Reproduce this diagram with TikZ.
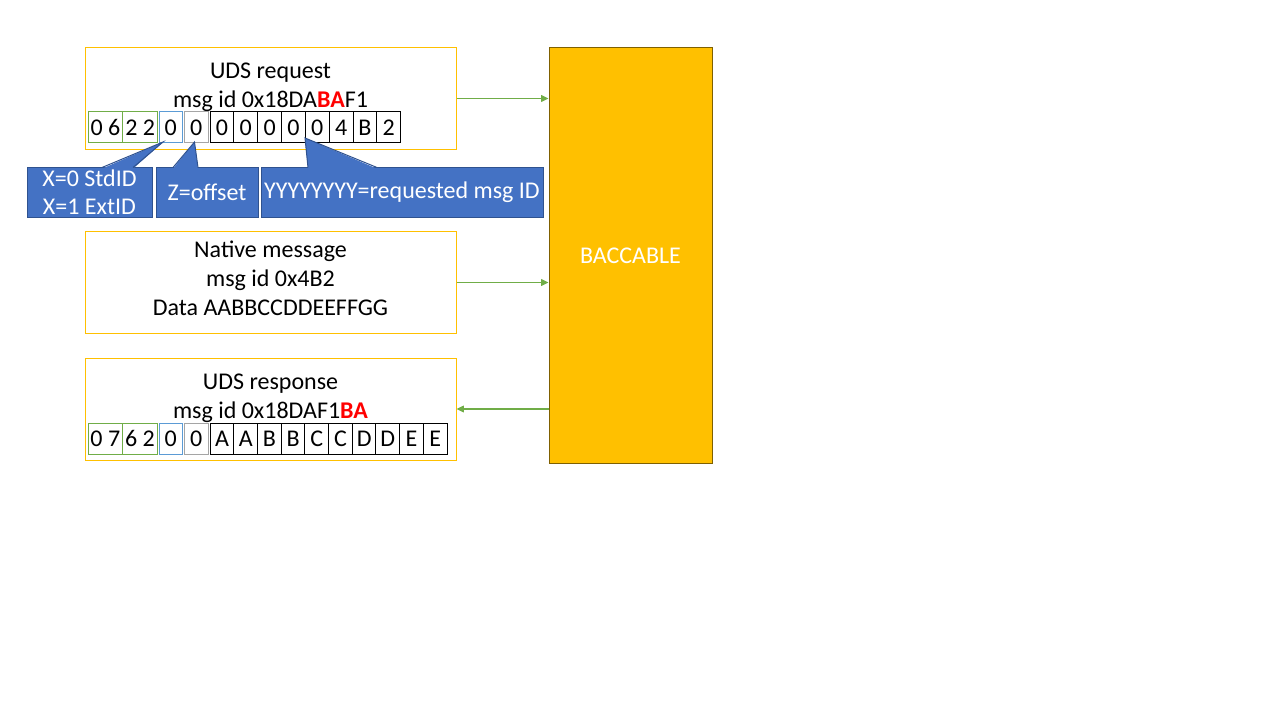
\documentclass[tikz,border=0pt]{standalone}
\usepackage{fontspec}
\setmainfont{Carlito}
\usetikzlibrary{arrows.meta,calc}
\definecolor{gold}{HTML}{FFC000}
\definecolor{goldedge}{HTML}{7F6000}
\definecolor{callfill}{HTML}{4472C4}
\definecolor{calledge}{HTML}{2F528F}
\definecolor{grn}{HTML}{70AD47}
\definecolor{blu}{HTML}{5B9BD5}
\definecolor{gry}{HTML}{A5A5A5}
\definecolor{redtxt}{HTML}{FF0000}
\begin{document}
\begin{tikzpicture}[x=0.75pt,y=-0.75pt,
  font=\fontsize{18}{21.75}\selectfont,
  frame/.style={draw=gold, line width=0.75pt, inner sep=0pt,
    minimum width=371*0.75pt, minimum height=102*0.75pt},
  txt/.style={align=center, inner sep=0pt},
  cell/.style={draw=#1, line width=0.75pt, inner sep=0pt,
    minimum height=31*0.75pt},
  callbody/.style={fill=callfill, draw=calledge, line width=0.75pt,
    inner sep=0pt, minimum height=50*0.75pt, text=white, align=center,
    font=\fontsize{18}{21}\selectfont},
  ptrfill/.style={fill=callfill},
  ptredge/.style={draw=calledge, line width=0.75pt},
  arr/.style={draw=grn, line width=1pt, -{Triangle[length=5.5pt,width=5pt]}}
]
\useasboundingbox (0,0) rectangle (1280,720);

% BACCABLE block
\node[fill=gold, draw=goldedge, line width=0.75pt, inner sep=0pt,
  minimum width=163*0.75pt, minimum height=416*0.75pt, text=white]
  (bac) at (630.5,255.5) {BACCABLE};

% frames
\node[frame] (req) at (270.5,98.5) {};
\node[frame] (nat) at (270.5,282.5) {};
\node[frame] (resp) at (270.5,409) {};

\node[txt] (reqt) at (270.5,87)
  {UDS request\\msg id 0x18DA\textcolor{redtxt}{\textbf{BA}}F1};
\node[txt] (natt) at (270.5,278.5)
  {Native message\\msg id 0x4B2\\Data AABBCCDDEEFFGG};
\node[txt] (respt) at (270.5,398)
  {UDS response\\msg id 0x18DAF1\textcolor{redtxt}{\textbf{BA}}};

% request cells
\node[cell=grn, minimum width=34.4*0.75pt] (q1) at (105.5,127.5) {0 6};
\node[cell=grn, minimum width=35*0.75pt] (q2) at (140.2,127.5) {2 2};
\node[cell=blu, minimum width=23.3*0.75pt] (q3) at (170.7,127.5) {0};
\node[cell=gry, minimum width=24*0.75pt] (q4) at (196.3,127.5) {0};
\foreach \t [count=\i from 0] in {0,0,0,0,0,4,B,2}{
  \node[cell=black, minimum width=23.84*0.75pt] (qb\i)
    at ({210+11.92+\i*23.84},127.5) {\t};
}

% response cells
\node[cell=grn, minimum width=34*0.75pt] (s1) at (105.3,438.5) {0 7};
\node[cell=grn, minimum width=35.4*0.75pt] (s2) at (140,438.5) {6 2};
\node[cell=blu, minimum width=23*0.75pt] (s3) at (170.8,438.5) {0};
\node[cell=gry, minimum width=24*0.75pt] (s4) at (196.3,438.5) {0};
\foreach \t [count=\i from 0] in {A,A,B,B,C,C,D,D,E,E}{
  \node[cell=black, minimum width=23.67*0.75pt] (sb\i)
    at ({210.3+11.835+\i*23.67},438.5) {\t};
}

% callouts
\node[callbody, minimum width=125*0.75pt] (c1) at (89.5,192.5)
  {X=0 StdID\\X=1 ExtID};
\node[callbody, minimum width=102*0.75pt] (c2) at (207,192.5) {Z=offset};
\node[callbody, minimum width=282*0.75pt] (c3) at (402,192.5)
  {YYYYYYYY=requested msg ID};

\coordinate (t1) at (163,142);
\coordinate (t2) at (194.5,142);
\coordinate (t3) at (305,138);

\fill[ptrfill] (102,168.7) -- (t1) -- (133,168.7) -- cycle;
\draw[ptredge] (102,167.5) -- (t1) -- (133,167.5);
\fill[ptrfill] (173,168.7) -- (t2) -- (198,168.7) -- cycle;
\draw[ptredge] (173,167.5) -- (t2) -- (198,167.5);
\fill[ptrfill] (308,168.7) -- (t3) -- (377,168.7) -- cycle;
\draw[ptredge] (308,167.5) -- (t3) -- (377,167.5);

% arrows
\draw[arr] (req.east) -- (req.east -| bac.west);
\draw[arr] (nat.east) -- (nat.east -| bac.west);
\draw[arr] (resp.east -| bac.west) -- (resp.east);
\end{tikzpicture}
\end{document}
